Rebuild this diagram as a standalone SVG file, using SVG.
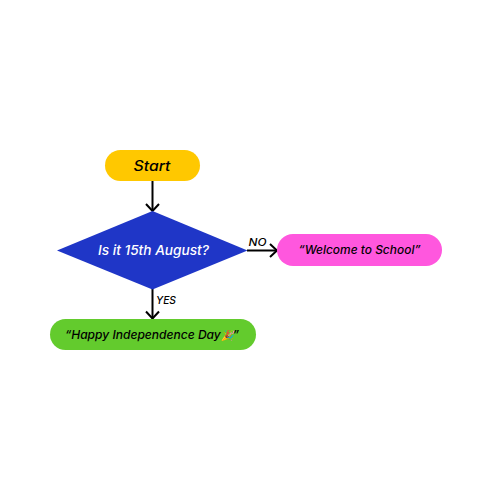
<svg xmlns="http://www.w3.org/2000/svg" width="500" height="500" viewBox="0 0 500 500">
<style>
text{font-family:"Inter","Noto Sans",sans-serif;font-style:italic;font-weight:500;text-anchor:middle;fill:#000}
.c{fill:none;stroke:#000;stroke-width:2}
</style>
<defs>
<marker id="a" markerUnits="userSpaceOnUse" markerWidth="16" markerHeight="20" refX="13" refY="10" orient="auto"><path d="M6 3.500L13 10L6 16.500" fill="none" stroke="#000" stroke-width="2"/></marker>
</defs>
<rect width="500" height="500" fill="#fff"/>
<g id="connectors">
<path class="c" d="M152.500 181V211" marker-end="url(#a)"/>
<path class="c" d="M152.500 288V318.500" marker-end="url(#a)"/>
<path class="c" d="M247 250.500H277" marker-end="url(#a)"/>
</g>
<g id="start"><rect x="105" y="150" width="95" height="31" rx="15.500" fill="#ffc800"/><text x="152" y="171" font-size="14" textLength="37" lengthAdjust="spacingAndGlyphs">Start</text></g>
<g id="decision"><polygon points="152.500,211 247.500,250.500 152.500,289.500 57,250.500" fill="#1f36c7"/><text x="153.500" y="254.500" font-size="13" textLength="111" lengthAdjust="spacingAndGlyphs" style="fill:#fff">Is it 15th August?</text></g>
<g id="school"><rect x="277" y="234" width="165" height="32" rx="16" fill="#ff57de"/><text x="359.500" y="254" font-size="11.500" textLength="122" lengthAdjust="spacingAndGlyphs">“Welcome to School”</text></g>
<g id="happy"><rect x="50" y="319" width="206" height="31" rx="15.500" fill="#63cb2d"/><text x="152" y="339" font-size="12" textLength="174" lengthAdjust="spacingAndGlyphs">“Happy Independence Day<tspan font-size="10">🎉</tspan>”</text></g>
<g id="labels"><text x="257.500" y="246" font-size="10.500" textLength="18" lengthAdjust="spacingAndGlyphs">NO</text><text x="166" y="304" font-size="10.500" textLength="20" lengthAdjust="spacingAndGlyphs">YES</text></g>
</svg>
